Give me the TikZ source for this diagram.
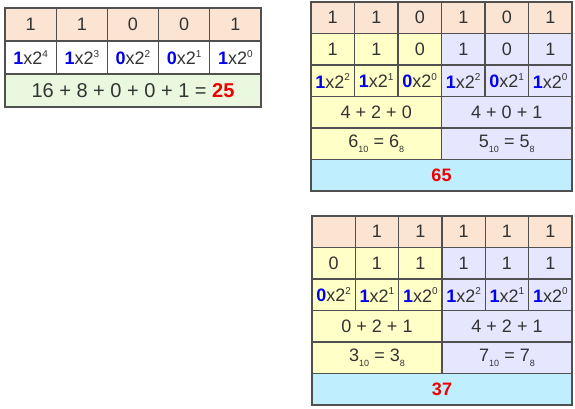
\documentclass[tikz,border=0pt]{standalone}
\usepackage{fontspec}
\setmainfont{Liberation Sans}
\definecolor{peach}{HTML}{FCE4D2}
\definecolor{yel}{HTML}{FFFFC8}
\definecolor{lav}{HTML}{E6E6FF}
\definecolor{grn}{HTML}{EAF8E0}
\definecolor{cyn}{HTML}{BFEEFF}
\definecolor{txt}{HTML}{333333}
\definecolor{brd}{HTML}{505050}
\definecolor{bl}{HTML}{0000EE}
\definecolor{rd}{HTML}{EE0000}
\newcommand{\pw}[2]{\textcolor{bl}{\textbf{#1}}x2\raisebox{0.8ex}{\fontsize{10}{10}\selectfont #2}}
\newcommand{\sbs}[1]{\raisebox{-0.55ex}{\fontsize{9}{9}\selectfont #1}}
\newcommand{\cb}[7]{\node[cellbox,fill=#6,minimum width=#4pt,minimum height=#5pt] (#1) at (#2+#4/2,#3+#5/2) {#7};}
\tikzset{cellbox/.style={draw=brd,line width=1.3pt,inner sep=0pt,outer sep=0pt,text=txt,font=\fontsize{18}{18}\selectfont,rectangle}}
\begin{document}
\begin{tikzpicture}[x=1pt,y=-1pt]
\useasboundingbox (0,0) rectangle (575,408);
% left table
\cb{a1}{5}{8}{51.2}{33}{peach}{1}
\cb{a2}{56.2}{8}{51.2}{33}{peach}{1}
\cb{a3}{107.4}{8}{51.2}{33}{peach}{0}
\cb{a4}{158.6}{8}{51.2}{33}{peach}{0}
\cb{a5}{209.8}{8}{51.2}{33}{peach}{1}
\cb{b1}{5}{41}{51.2}{33}{white}{\pw{1}{4}}
\cb{b2}{56.2}{41}{51.2}{33}{white}{\pw{1}{3}}
\cb{b3}{107.4}{41}{51.2}{33}{white}{\pw{0}{2}}
\cb{b4}{158.6}{41}{51.2}{33}{white}{\pw{0}{1}}
\cb{b5}{209.8}{41}{51.2}{33}{white}{\pw{1}{0}}
\node[cellbox,fill=grn,minimum width=256pt,minimum height=33pt,font=\fontsize{20}{20}\selectfont] (csum) at (133,90.5) {16 + 8 + 0 + 0 + 1 = \textcolor{rd}{\textbf{25}}};
% right top table
\foreach \i/\v in {0/1,1/1,2/0,3/1,4/0,5/1}{
  \cb{p\i}{311+43.5*\i}{2}{43.5}{31.5}{peach}{\v}}
\foreach \i/\v in {0/1,1/1,2/0}{
  \cb{q\i}{311+43.5*\i}{33.5}{43.5}{31.5}{yel}{\v}}
\foreach \i/\v in {3/1,4/0,5/1}{
  \cb{q\i}{311+43.5*\i}{33.5}{43.5}{31.5}{lav}{\v}}
\cb{r0}{311}{65}{43.5}{31.5}{yel}{\pw{1}{2}}
\cb{r1}{354.5}{65}{43.5}{31.5}{yel}{\pw{1}{1}}
\cb{r2}{398}{65}{43.5}{31.5}{yel}{\pw{0}{0}}
\cb{r3}{441.5}{65}{43.5}{31.5}{lav}{\pw{1}{2}}
\cb{r4}{485}{65}{43.5}{31.5}{lav}{\pw{0}{1}}
\cb{r5}{528.5}{65}{43.5}{31.5}{lav}{\pw{1}{0}}
\cb{s0}{311}{96.5}{130.5}{31.5}{yel}{4 + 2 + 0}
\cb{s1}{441.5}{96.5}{130.5}{31.5}{lav}{4 + 0 + 1}
\cb{t0}{311}{128}{130.5}{31.5}{yel}{6\sbs{10} = 6\sbs{8}}
\cb{t1}{441.5}{128}{130.5}{31.5}{lav}{5\sbs{10} = 5\sbs{8}}
\cb{u0}{311}{159.5}{261}{31.5}{cyn}{\textcolor{rd}{\textbf{65}}}
% right bottom table
\foreach \i/\v in {0/,1/1,2/1,3/1,4/1,5/1}{
  \cb{P\i}{312+43.33*\i}{216}{43.33}{31.5}{peach}{\v}}
\foreach \i/\v in {0/0,1/1,2/1}{
  \cb{Q\i}{312+43.33*\i}{247.5}{43.33}{31.5}{yel}{\v}}
\foreach \i/\v in {3/1,4/1,5/1}{
  \cb{Q\i}{312+43.33*\i}{247.5}{43.33}{31.5}{lav}{\v}}
\cb{R0}{312}{279}{43.33}{31.5}{yel}{\pw{0}{2}}
\cb{R1}{355.33}{279}{43.33}{31.5}{yel}{\pw{1}{1}}
\cb{R2}{398.67}{279}{43.33}{31.5}{yel}{\pw{1}{0}}
\cb{R3}{442}{279}{43.33}{31.5}{lav}{\pw{1}{2}}
\cb{R4}{485.33}{279}{43.33}{31.5}{lav}{\pw{1}{1}}
\cb{R5}{528.67}{279}{43.33}{31.5}{lav}{\pw{1}{0}}
\cb{S0}{312}{310.5}{130}{31.5}{yel}{0 + 2 + 1}
\cb{S1}{442}{310.5}{130}{31.5}{lav}{4 + 2 + 1}
\cb{T0}{312}{342}{130}{31.5}{yel}{3\sbs{10} = 3\sbs{8}}
\cb{T1}{442}{342}{130}{31.5}{lav}{7\sbs{10} = 7\sbs{8}}
\cb{U0}{312}{373.5}{260}{31.5}{cyn}{\textcolor{rd}{\textbf{37}}}
\end{tikzpicture}
\end{document}
